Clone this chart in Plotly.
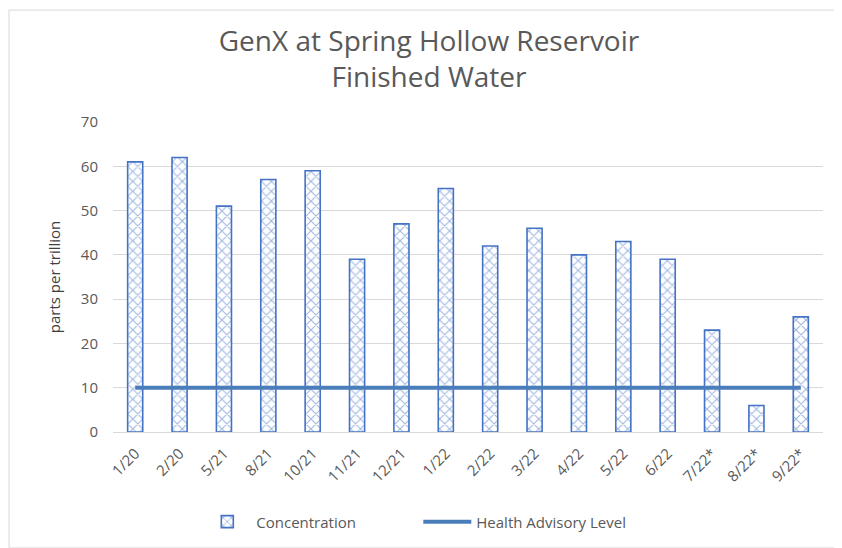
import plotly.graph_objects as go

categories = ["1/20", "2/20", "5/21", "8/21", "10/21", "11/21", "12/21", "1/22",
              "2/22", "3/22", "4/22", "5/22", "6/22", "7/22*", "8/22*", "9/22*"]
concentration = [61, 62, 51, 57, 59, 39, 47, 55, 42, 46, 40, 43, 39, 23, 6, 26]
health_advisory = [10] * len(categories)
y_ticks = [0, 10, 20, 30, 40, 50, 60, 70]

FONT = "Open Sans, Lato, sans-serif"
GREY = "#595959"

fig = go.Figure()
fig.add_trace(go.Bar(
    x=categories, y=concentration, name="Concentration",
    marker=dict(color="white", line=dict(color="#4472C4", width=1.6),
                pattern=dict(shape="x", fgcolor="#4472C4", bgcolor="white",
                             size=7, solidity=0.3)),
    width=0.34,
))
fig.add_trace(go.Scatter(
    x=categories, y=health_advisory, name="Health Advisory Level",
    mode="lines", line=dict(color="#4A7EBB", width=4),
))

fig.update_layout(
    width=842, height=548,
    margin=dict(l=105, r=27, t=114, b=124),
    paper_bgcolor="white", plot_bgcolor="white",
    title=dict(text="GenX at Spring Hollow Reservoir<br>Finished Water",
               x=0.5, xanchor="center", y=0.922, yanchor="middle",
               font=dict(family=FONT, size=28, color=GREY)),
    font=dict(family=FONT, color=GREY),
    showlegend=True,
    legend=dict(orientation="h", x=0.43, xanchor="center", y=-0.29, yanchor="middle",
                font=dict(size=15, color=GREY), itemwidth=48, tracegroupgap=0,
                entrywidth=157, entrywidthmode="pixels"),
    yaxis=dict(range=[0, 70], tickvals=y_ticks, showgrid=True, gridcolor="#D9D9D9",
               gridwidth=1, zeroline=False, showline=False,
               tickfont=dict(size=15, color=GREY), ticks="", ticklabelstandoff=14,
               title=dict(text="parts per trillion", font=dict(size=15, color="#404040"),
                          standoff=16)),
    xaxis=dict(tickangle=-45, tickfont=dict(size=15, color=GREY), showline=True,
               linecolor="#D9D9D9", linewidth=1, showgrid=False, ticks="",
               ticklabelstandoff=6),
    shapes=[dict(type="rect", xref="paper", yref="paper",
                 x0=-0.1465, x1=1.018, y0=-0.374, y1=1.361,
                 line=dict(color="#D9D9D9", width=1), fillcolor="rgba(0,0,0,0)",
                 layer="below")],
)

fig.write_html("out.html")
